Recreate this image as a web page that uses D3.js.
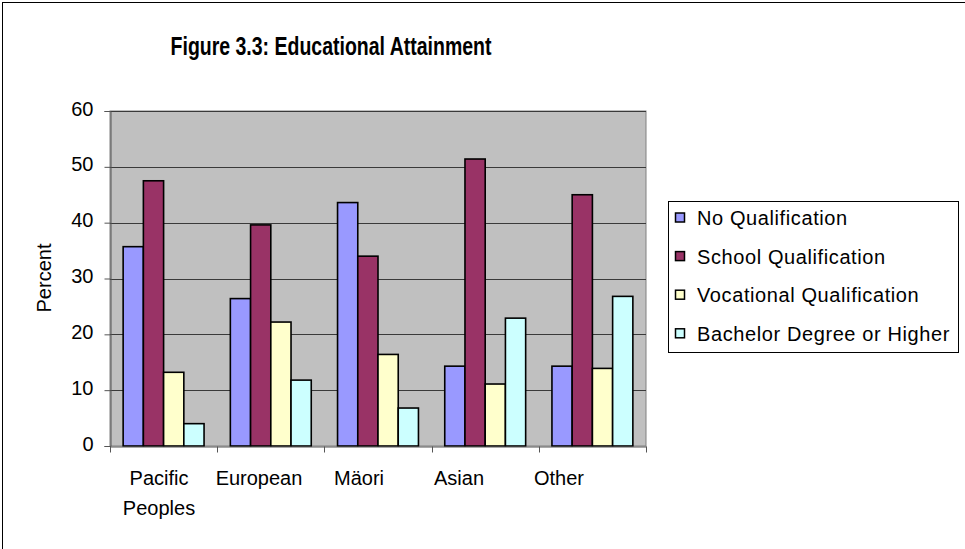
<!DOCTYPE html>
<html><head><meta charset="utf-8">
<script src="https://cdn.jsdelivr.net/npm/d3@7"></script>
<style>
body{margin:0;background:#fff;}
svg text{font-family:"Liberation Sans",Arial,sans-serif;}
</style></head>
<body>
<svg id="c" width="965" height="549"></svg>
<script>
const categories = ["Pacific Peoples","European","Mäori","Asian","Other"];
const categoryLines = [["Pacific","Peoples"],["European"],["Mäori"],["Asian"],["Other"]];
const seriesNames = ["No Qualification","School Qualification","Vocational Qualification","Bachelor Degree or Higher"];
const noQualification = [35.7, 26.4, 43.6, 14.3, 14.3];
const schoolQualification = [47.5, 39.6, 34.0, 51.4, 45.0];
const vocationalQualification = [13.2, 22.2, 16.4, 11.1, 13.9];
const bachelorOrHigher = [4.0, 11.8, 6.8, 22.9, 26.8];
const yTicks = [0,10,20,30,40,50,60];
const colors = ["#9999FF","#993366","#FFFFCC","#CCFFFF"];

const series = [noQualification, schoolQualification, vocationalQualification, bachelorOrHigher];
const svg = d3.select("#c");

// chart border
svg.append("rect").attr("x",2.5).attr("y",2.5).attr("width",970).attr("height",560)
  .attr("fill","#fff").attr("stroke","#000").attr("stroke-width",1);

const L=110, R=646, T=111, B=446;
const x = d3.scaleBand().domain(categories).range([L,R]);
const xs = d3.scaleBand().domain(d3.range(4)).range([0, x.bandwidth()]).paddingInner(0).paddingOuter(0.65);
const y = d3.scaleLinear().domain([0,60]).range([B,T]);

// plot area
svg.append("rect").attr("x",L).attr("y",T).attr("width",R-L).attr("height",B-T)
  .attr("fill","#C0C0C0").attr("stroke","#808080").attr("stroke-width",1);

// gridlines
svg.append("g").selectAll("line").data(yTicks.filter(d=>d>0)).join("line")
  .attr("x1",L).attr("x2",R).attr("y1",d=>Math.round(y(d))+0.5).attr("y2",d=>Math.round(y(d))+0.5)
  .attr("stroke","#3a3a3a").attr("stroke-width",1);

// bars
categories.forEach((c,ci)=>{
  series.forEach((s,si)=>{
    svg.append("rect")
      .attr("x", x(c)+xs(si))
      .attr("y", y(s[ci]))
      .attr("width", xs.bandwidth())
      .attr("height", B - y(s[ci]))
      .attr("fill", colors[si]).attr("stroke","#000").attr("stroke-width",1.6);
  });
});

// y axis
const ya = svg.append("g").attr("transform",`translate(${L+0.5},0)`)
  .call(d3.axisLeft(y).tickValues(yTicks).tickSize(6).tickPadding(11));
ya.select(".domain").attr("stroke","#555");
ya.selectAll(".tick line").attr("stroke","#555");
ya.selectAll("text").attr("font-size",20).attr("dy","0.2em").attr("fill","#000")
  .attr("font-family","Liberation Sans, Arial, sans-serif");

// x axis
const xa = svg.append("g").attr("transform",`translate(0,${B+0.5})`)
  .call(d3.axisBottom(x).tickValues([]).tickSizeOuter(0));
xa.select(".domain").attr("stroke","#555");
const boundaries = categories.map(c=>x(c)).concat([R]);
xa.selectAll("line.b").data(boundaries).join("line").attr("class","b")
  .attr("x1",d=>Math.round(d)+0.5).attr("x2",d=>Math.round(d)+0.5).attr("y1",0).attr("y2",6).attr("stroke","#555");

// category labels
const xl = d3.scaleBand().domain(categories).range([109,609]);
categories.forEach((c,i)=>{
  const cx = xl(c)+xl.bandwidth()/2;
  const t = svg.append("text").attr("x", cx).attr("y",485)
    .attr("text-anchor","middle").attr("font-size",20).attr("fill","#000");
  categoryLines[i].forEach((ln,j)=>{
    t.append("tspan").attr("x", cx).attr("dy", j===0?0:30).text(ln);
  });
});

// y title
svg.append("text").attr("transform","translate(51,278) rotate(-90)")
  .attr("text-anchor","middle").attr("font-size",20).text("Percent");

// title (condensed bold)
svg.append("text").attr("transform","translate(331,55) scale(0.78,1)").attr("text-anchor","middle")
  .attr("font-size",25).attr("font-weight","bold").text("Figure 3.3: Educational Attainment");

// legend
const lg = svg.append("g");
lg.append("rect").attr("x",668.5).attr("y",201.5).attr("width",290).attr("height",151)
  .attr("fill","#fff").attr("stroke","#000").attr("stroke-width",1);
seriesNames.forEach((n,i)=>{
  const cy = 217.5 + i*38.6;
  lg.append("rect").attr("x",675.5).attr("y",cy-4.5).attr("width",9).attr("height",9)
    .attr("fill",colors[i]).attr("stroke","#000").attr("stroke-width",1.5);
  lg.append("text").attr("x",697).attr("y",cy+7.5).attr("font-size",20)
    .attr("letter-spacing","0.6px").text(n);
});
</script>
</body></html>
